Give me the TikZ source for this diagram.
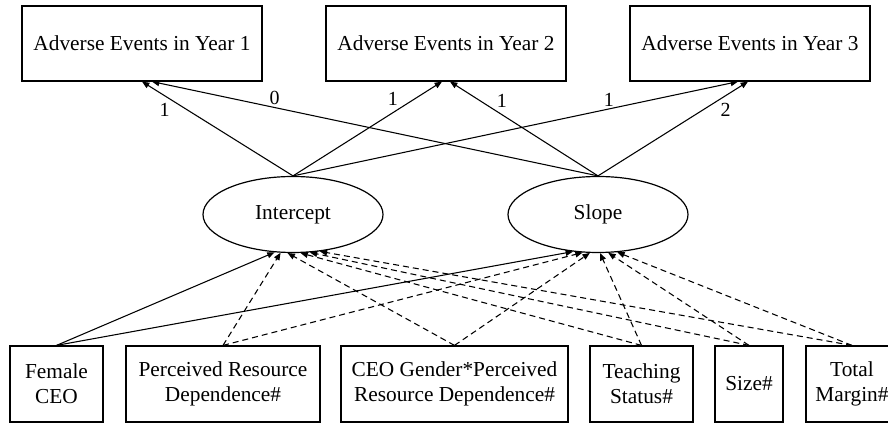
\documentclass[tikz,border=0pt]{standalone}
\usepackage{fontspec}
\setmainfont{Liberation Serif}
\usetikzlibrary{arrows.meta,shapes.geometric}

\begin{document}
\begin{tikzpicture}[x=0.75pt, y=-0.75pt,
    every node/.style={font=\fontsize{16}{18.75}\selectfont},
    evbox/.style={draw, line width=0.9pt, minimum width=180pt, minimum height=56.25pt, inner sep=0pt},
    latent/.style={draw, ellipse, line width=0.9pt, minimum width=135pt, minimum height=57pt, inner sep=0pt},
    predbox/.style={draw, line width=0.9pt, minimum height=57pt, inner sep=0pt, align=center},
    solidpath/.style={-{Triangle[length=5.5pt, width=4.5pt]}, line width=0.8pt},
    dashpath/.style={solidpath, dash pattern=on 4.5pt off 3pt},
    wt/.style={font=\fontsize{15}{17}\selectfont, inner sep=1.5pt}]
    \useasboundingbox (0,0) rectangle (888,423);

    % Outcomes over three years
    \node[evbox] (y1) at (142,43.5) {Adverse Events in Year 1};
    \node[evbox] (y2) at (446,43.5) {Adverse Events in Year 2};
    \node[evbox] (y3) at (750,43.5) {Adverse Events in Year 3};

    % Growth factors
    \node[latent] (int) at (293,214.5) {Intercept};
    \node[latent] (slope) at (598,214.5) {Slope};

    % Predictors
    \node[predbox, minimum width=69.75pt] (fem) at (56.5,384) {Female\\CEO};
    \node[predbox, minimum width=145.5pt] (prd) at (223,384) {Perceived Resource\\Dependence\#};
    \node[predbox, minimum width=170.25pt] (cgp) at (454.5,384) {CEO Gender*Perceived\\Resource Dependence\#};
    \node[predbox, minimum width=77.25pt] (tch) at (641.5,384) {Teaching\\Status\#};
    \node[predbox, minimum width=51pt] (siz) at (749,384) {Size\#};
    \node[predbox, minimum width=69pt] (tot) at (852,384) {Total\\Margin\#};

    % Loadings
    \draw[solidpath] (int.north) -- node[wt, pos=0.8, below left] {1} (y1.south);
    \draw[solidpath] (slope.north) -- node[wt, pos=0.725, above] {0} ([xshift=7.5pt]y1.south);
    \draw[solidpath] (int.north) -- node[wt, pos=0.72, above left] {1} ([xshift=-3pt]y2.south);
    \draw[solidpath] (slope.north) -- node[wt, pos=0.7, above right] {1} ([xshift=3pt]y2.south);
    \draw[solidpath] (int.north) -- node[wt, pos=0.71, above] {1} ([xshift=-9pt]y3.south);
    \draw[solidpath] (slope.north) -- node[wt, pos=0.8, below right] {2} ([xshift=-1.5pt]y3.south);

    % Predictor paths
    \draw[solidpath] (fem.north) -- (int.-116);
    \draw[solidpath] (fem.north) -- (slope.-124);
    \draw[dashpath] (prd.north) -- (int.-108);
    \draw[dashpath] (prd.north) -- (slope.-112);
    \draw[dashpath] (cgp.north) -- (int.-98);
    \draw[dashpath] (cgp.north) -- (slope.-102);
    \draw[dashpath] (tch.north) -- (int.-79);
    \draw[dashpath] (tch.north) -- (slope.-87);
    \draw[dashpath] (siz.north) -- (int.-66);
    \draw[dashpath] (siz.north) -- (slope.-75);
    \draw[dashpath] (tot.north) -- (int.-54);
    \draw[dashpath] (tot.north) -- (slope.-63);
\end{tikzpicture}
\end{document}
